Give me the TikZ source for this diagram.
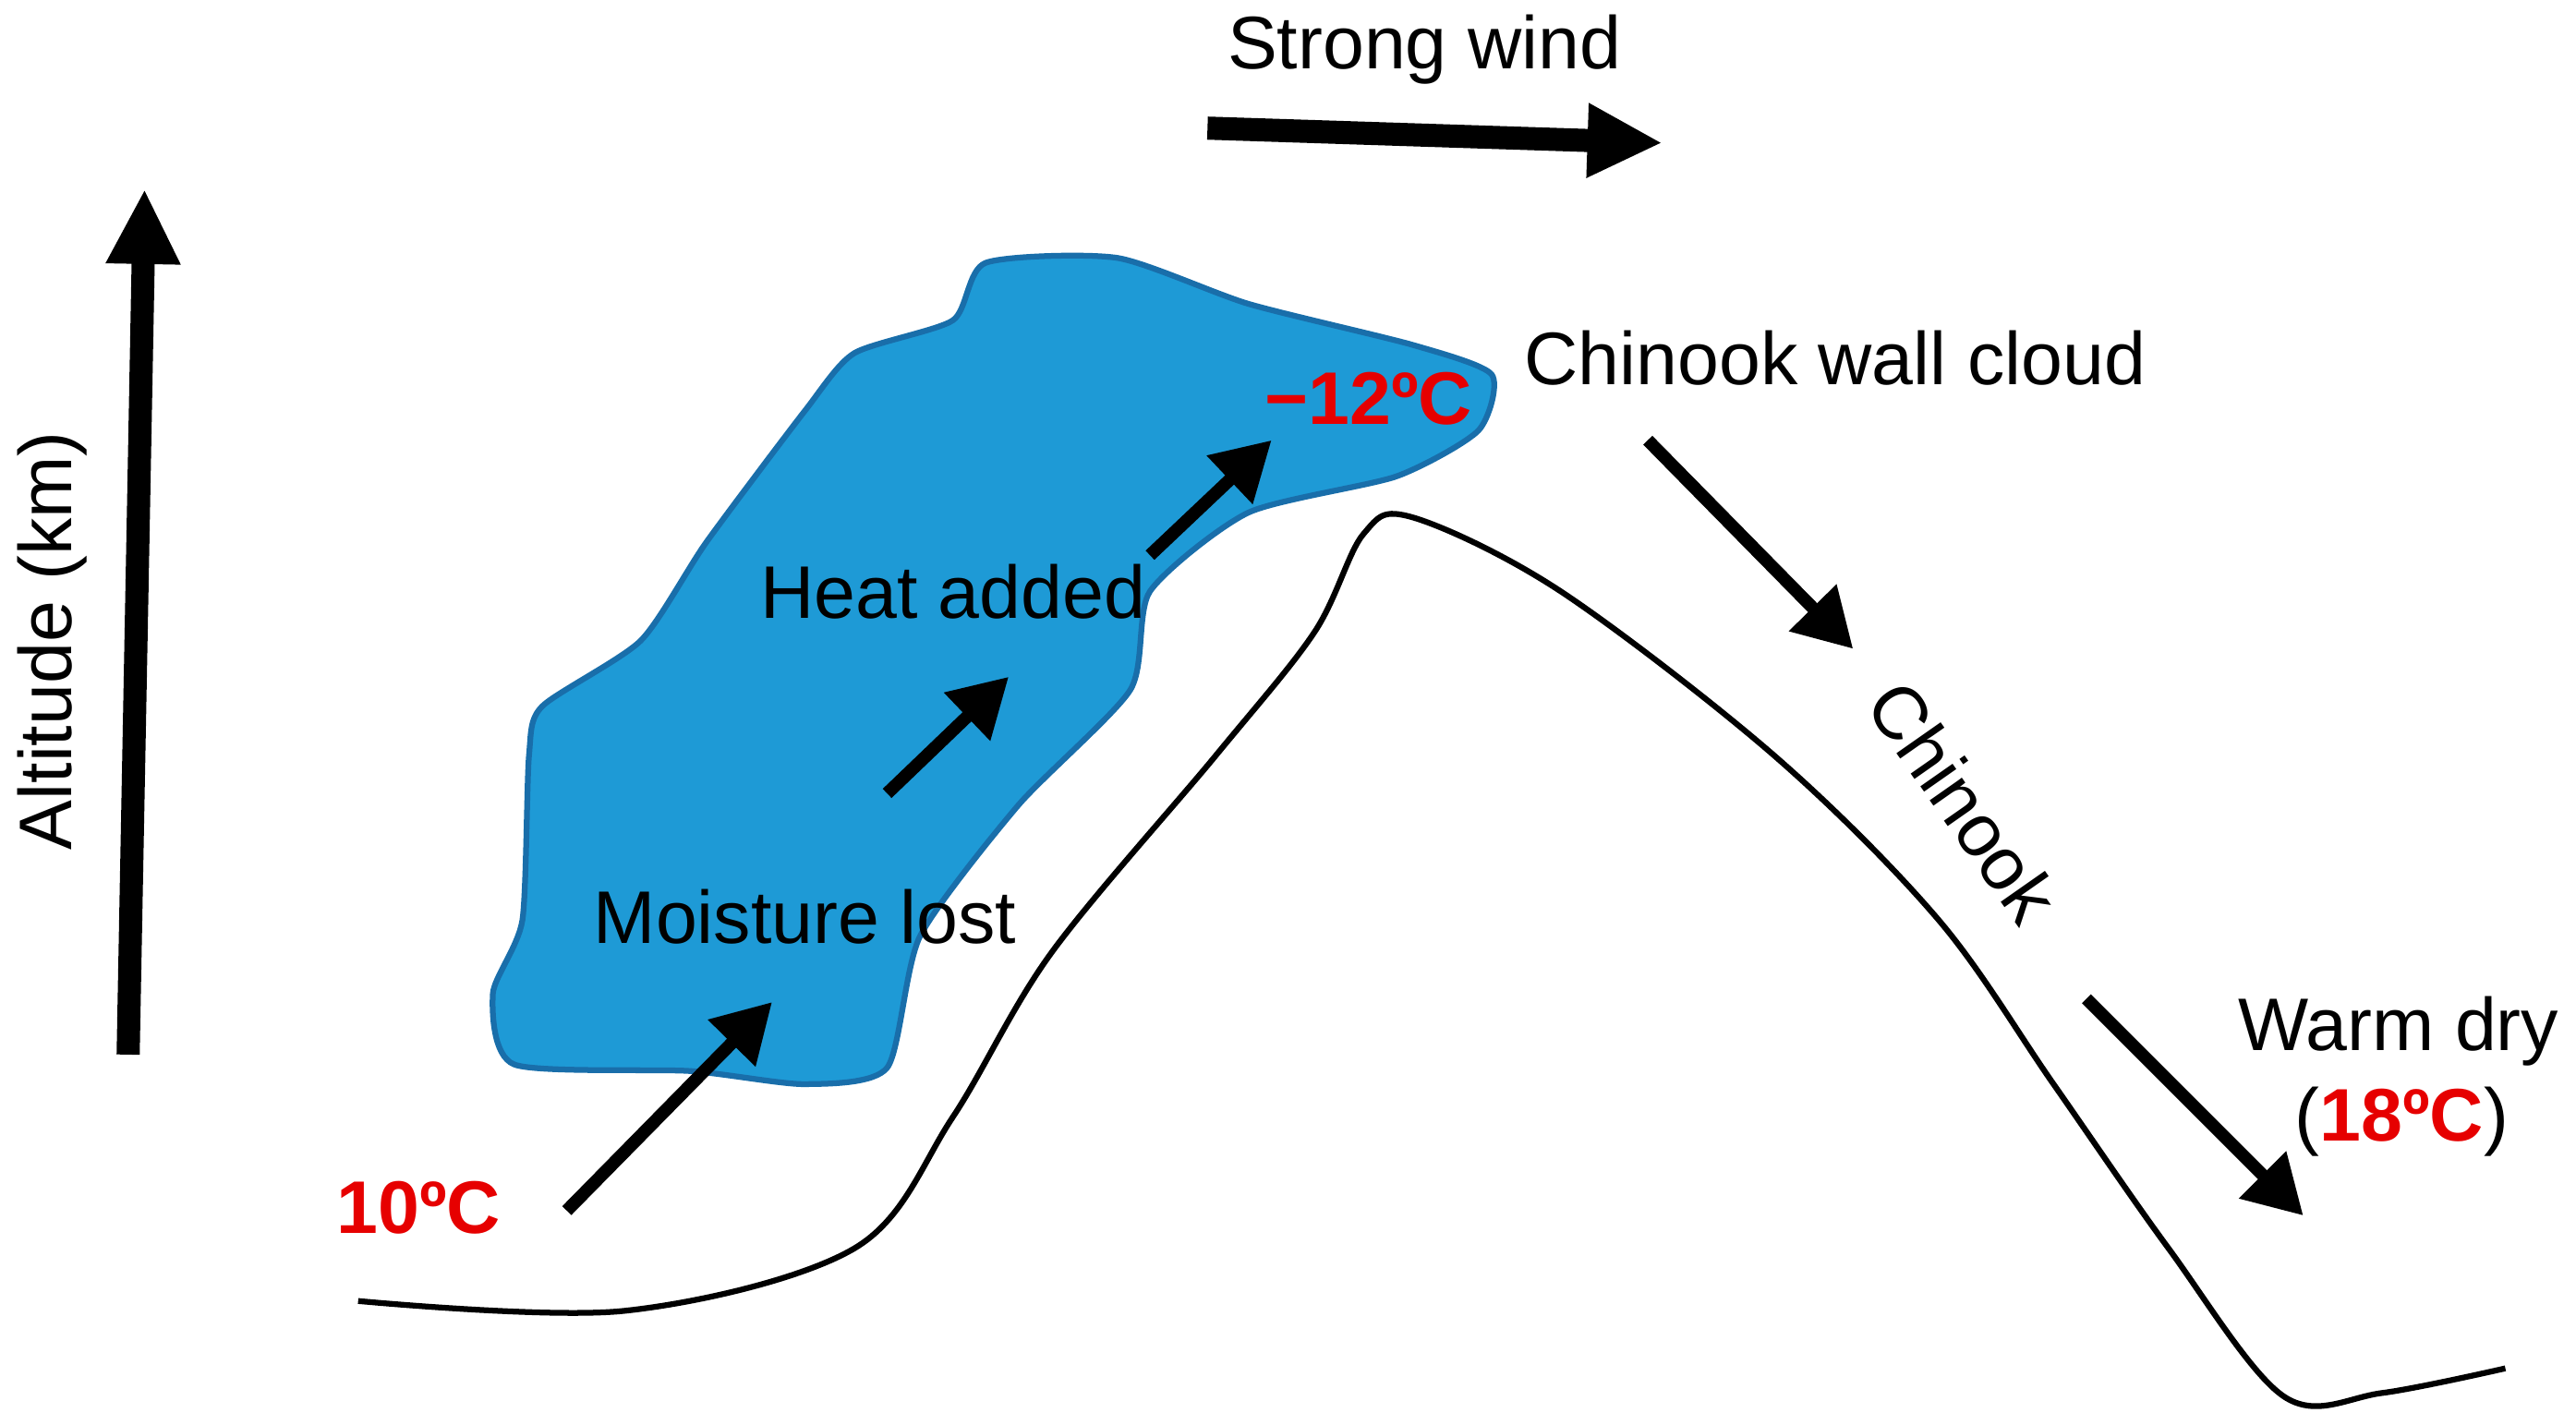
\documentclass[tikz,border=0pt]{standalone}
\usepackage{fontspec}
\setmainfont{Liberation Sans}
\usetikzlibrary{arrows.meta}

\begin{document}
\begin{tikzpicture}[
            x = 0.01cm, y = -0.01cm, % pixel-like grid, y downwards
            flow/.style = {line width=2.2pt, -{Triangle[length=10pt,width=11pt]}},
            big/.style = {line width=4pt, -{Triangle[length=13pt,width=12pt]}},
            lbl/.style = {font=\fontsize{12.9}{15}\selectfont},
            temp/.style = {font=\fontsize{12.9}{15}\selectfont\bfseries, text=tempred}
        ]
	\definecolor{tempred}{RGB}{230,0,0}
	\definecolor{cloudblue}{RGB}{30,154,214}
	\definecolor{cloudedge}{RGB}{25,110,170}

	\useasboundingbox (0,0) rectangle (1568,867);

	% cloud
	\filldraw[fill=cloudblue, draw=cloudedge, line width=1pt]
		plot[smooth cycle, tension=0.4] coordinates {
		(313,648) (300,605) (318,560) (322,460) (330,430) (390,390) (430,330)
		(490,250) (520,215) (580,195) (600,160) (680,157) (760,185) (860,210)
		(908,228) (900,262) (850,290) (760,312) (700,360) (688,420) (620,490)
		(560,570) (540,650) (490,660) (420,652)};

	% mountain
	\draw[line width=1pt] plot[smooth, tension=0.55] coordinates {
		(218,792) (380,798) (520,760) (580,680) (640,580) (740,460) (800,385)
		(830,325) (860,315) (950,360) (1080,460) (1180,560) (1250,660)
		(1320,760) (1390,850) (1450,848) (1525,833)};

	% coordinates
	\coordinate (alt0) at (78,642);   \coordinate (alt1) at (88,115);
	\coordinate (wind0) at (735,78);  \coordinate (wind1) at (1012,87);
	\coordinate (up0) at (345,737);   \coordinate (up1) at (470,610);
	\coordinate (mid0) at (540,483);  \coordinate (mid1) at (614,412);
	\coordinate (top0) at (700,338);  \coordinate (top1) at (774,268);
	\coordinate (dn0) at (1003,268);  \coordinate (dn1) at (1128,395);
	\coordinate (lo0) at (1270,608);  \coordinate (lo1) at (1402,740);

	\draw[big] (alt0) -- (alt1);
	\draw[big] (wind0) -- (wind1);
	\draw[flow] (up0) -- (up1);
	\draw[flow] (mid0) -- (mid1);
	\draw[flow] (top0) -- (top1);
	\draw[flow] (dn0) -- (dn1);
	\draw[flow] (lo0) -- (lo1);

	% labels
	\node[lbl, rotate=90] (altitude) at (32,390) {Altitude (km)};
	\node[lbl] (wind) at (867,30) {Strong wind};
	\node[temp] (t10) at (255,735) {10ºC};
	\node[lbl] (moist) at (490,558) {Moisture lost};
	\node[lbl] (heat) at (580,360) {Heat added};
	\node[temp] (t12) at (833,243) {−12ºC};
	\node[lbl] (wall) at (1117,218) {Chinook wall cloud};
	\node[lbl, rotate=-55] (chinook) at (1195,488) {Chinook};
	\node[lbl] (warm) at (1460,628) {Warm dry};
	\node[lbl] (t18) at (1462,683) {(\textcolor{tempred}{\textbf{18ºC}})};

\end{tikzpicture}
\end{document}
